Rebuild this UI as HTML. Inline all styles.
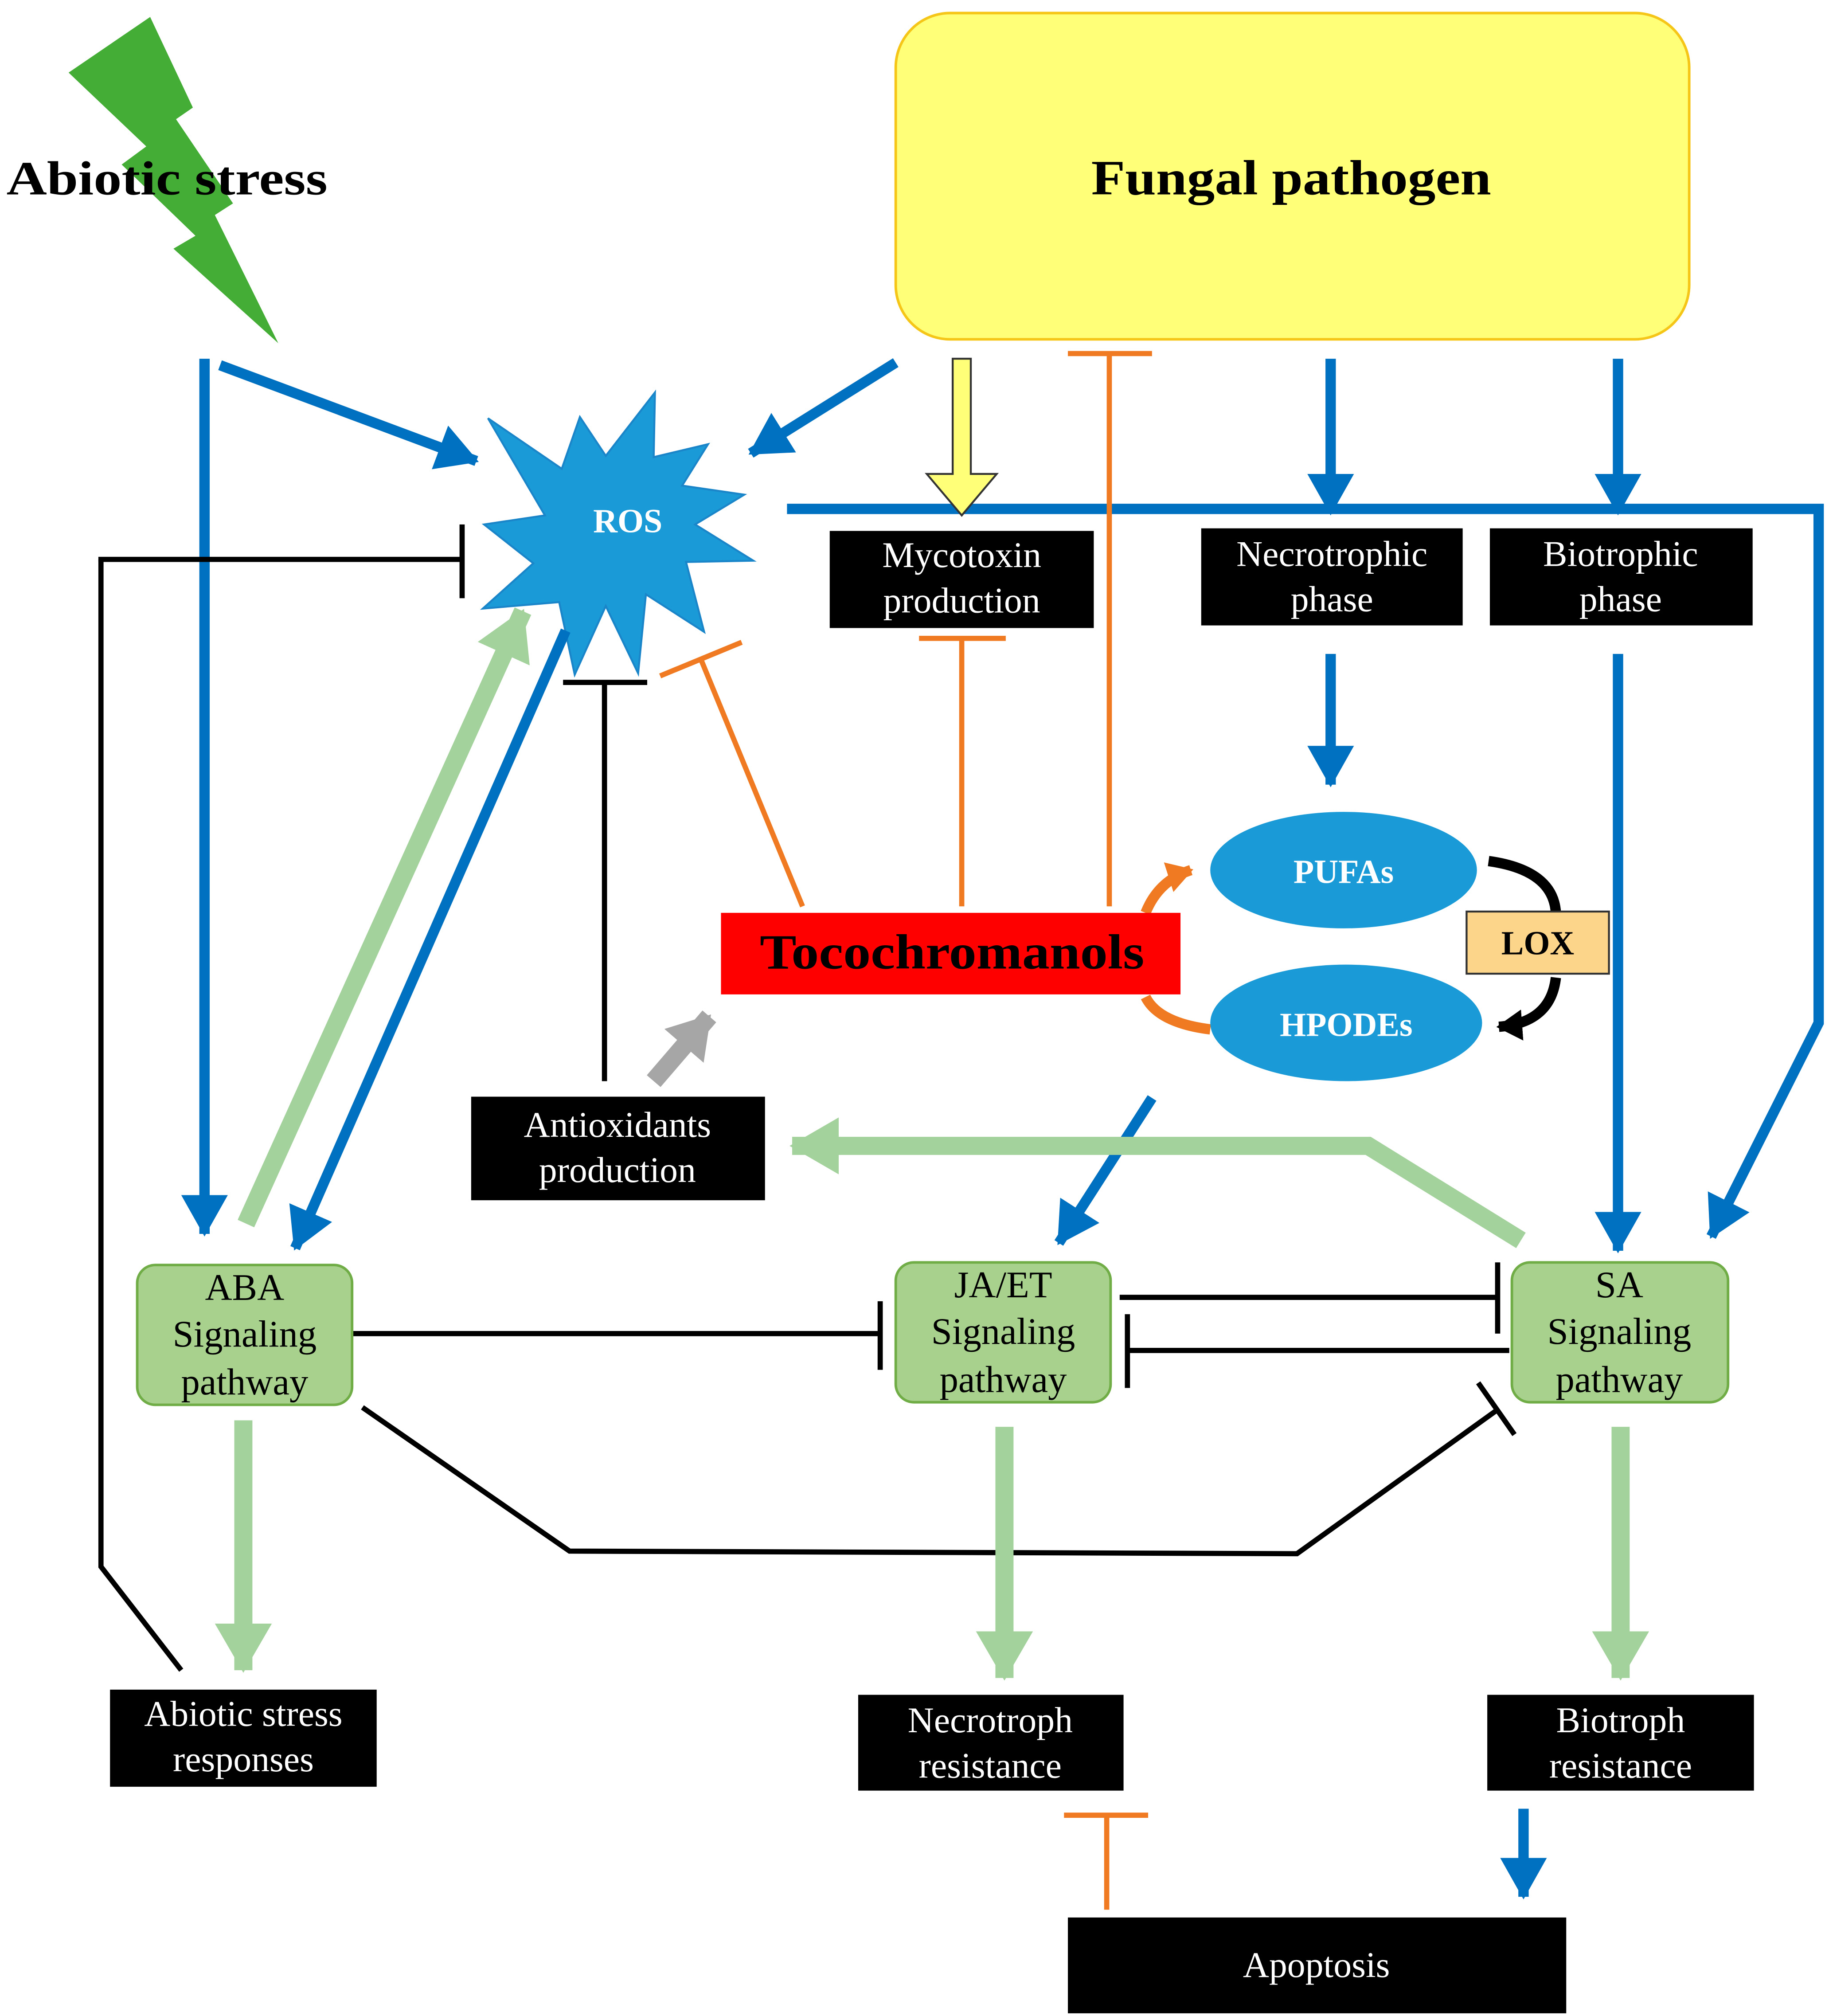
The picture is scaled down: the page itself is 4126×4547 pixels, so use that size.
<!DOCTYPE html>
<html><head><meta charset="utf-8"><style>html,body{margin:0;padding:0;background:#fff}svg{display:block}</style></head>
<body>
<svg width="4126" height="4547" viewBox="0 0 1413 1557" xmlns="http://www.w3.org/2000/svg" font-family="Liberation Serif, serif">
<defs>
<marker id="ab" markerUnits="userSpaceOnUse" markerWidth="40" markerHeight="40" refX="30" refY="18" orient="auto"><path d="M0,0 L32,18 L0,36 Z" fill="#0070c0"/></marker>
<marker id="ag" markerUnits="userSpaceOnUse" markerWidth="50" markerHeight="50" refX="36" refY="22" orient="auto"><path d="M0,0 L38,22 L0,44 Z" fill="#a4d29d"/></marker>
<marker id="agr" markerUnits="userSpaceOnUse" markerWidth="50" markerHeight="50" refX="30" refY="20" orient="auto"><path d="M0,0 L32,20 L0,40 Z" fill="#a6a6a6"/></marker>
<marker id="ao" markerUnits="userSpaceOnUse" markerWidth="30" markerHeight="30" refX="18" refY="12" orient="auto"><path d="M0,0 L20,12 L0,24 Z" fill="#f07a22"/></marker>
<marker id="ak" markerUnits="userSpaceOnUse" markerWidth="30" markerHeight="30" refX="18" refY="12" orient="auto"><path d="M0,0 L20,12 L0,24 Z" fill="#000"/></marker>
</defs>
<rect width="1413" height="1557" fill="#fff"/>
<polygon points="53,56 116,13 149,83 136,92 180,157 166,166 215,265 134,192 151,182 94,127 113,113" fill="#44ad35"/>
<text x="5" y="150" font-size="37" font-weight="bold" textLength="248" lengthAdjust="spacingAndGlyphs">Abiotic stress</text>
<rect x="692" y="10" width="613" height="252" rx="42" fill="#ffff78" stroke="#f5c518" stroke-width="2"/>
<text x="843" y="150" font-size="38" font-weight="bold" textLength="309" lengthAdjust="spacingAndGlyphs">Fungal pathogen</text>
<polygon points="377,323 434,362 448,322 468,352 506,303 505,353 547,343 527,375 575,382 537,405 582,433 530,434 544,488 499,459 493,520 468,468 444,521 432,465 373,470 412,435 374,405 421,398" fill="#1a9ad6" stroke="#1a85c8" stroke-width="1.5"/>
<text x="485" y="411" font-size="26" font-weight="bold" fill="#fff" text-anchor="middle">ROS</text>
<g stroke="#0070c0" stroke-width="8" fill="none">
<line x1="158" y1="277" x2="158" y2="953" marker-end="url(#ab)"/>
<line x1="170" y1="282" x2="368" y2="356" marker-end="url(#ab)"/>
<line x1="692" y1="280" x2="580" y2="350" marker-end="url(#ab)"/>
<line x1="1028" y1="277" x2="1028" y2="396" marker-end="url(#ab)"/>
<line x1="1250" y1="277" x2="1250" y2="396" marker-end="url(#ab)"/>
<polyline points="608,393 1405,393 1405,790 1322,955" marker-end="url(#ab)"/>
<line x1="1250" y1="505" x2="1250" y2="966" marker-end="url(#ab)"/>
<line x1="1028" y1="505" x2="1028" y2="606" marker-end="url(#ab)"/>
<line x1="437" y1="487" x2="228" y2="964" marker-end="url(#ab)"/>
<line x1="890" y1="848" x2="818" y2="960" marker-end="url(#ab)"/>
<line x1="1177" y1="1397" x2="1177" y2="1465" marker-end="url(#ab)"/>
</g>
<polygon points="736,277 750,277 750,366 770,366 743,398 716,366 736,366" fill="#ffff78" stroke="#333" stroke-width="1.5"/>
<g stroke="#f07a22" stroke-width="4" fill="none">
<line x1="857" y1="700" x2="857" y2="273"/><line x1="825" y1="273" x2="890" y2="273"/>
<line x1="743" y1="700" x2="743" y2="493"/><line x1="710" y1="493" x2="777" y2="493"/>
<line x1="620" y1="700" x2="541" y2="508"/><line x1="510" y1="522" x2="573" y2="496"/>
<line x1="855" y1="1475" x2="855" y2="1402"/><line x1="822" y1="1402" x2="887" y2="1402"/>
<path d="M885,705 Q895,680 920,672" stroke-width="8" marker-end="url(#ao)"/>
<path d="M885,770 Q895,790 935,795" stroke-width="8"/>
</g>
<g stroke="#000" stroke-width="4" fill="none">
<line x1="76" y1="432" x2="357" y2="432"/><line x1="357" y1="405" x2="357" y2="462"/>
<polyline points="78,432 78,1210 140,1290"/>
<line x1="467" y1="835" x2="467" y2="527"/><line x1="435" y1="527" x2="500" y2="527"/>
<line x1="272" y1="1030" x2="680" y2="1030"/><line x1="680" y1="1005" x2="680" y2="1058"/>
<line x1="865" y1="1002" x2="1157" y2="1002"/><line x1="1157" y1="975" x2="1157" y2="1030"/>
<line x1="1166" y1="1043" x2="871" y2="1043"/><line x1="871" y1="1015" x2="871" y2="1072"/>
<polyline points="280,1087 440,1198 1002,1200 1158,1088"/><line x1="1142" y1="1068" x2="1170" y2="1108"/>
<path d="M1150,665 Q1200,672 1202,705" stroke-width="8"/>
<path d="M1202,755 Q1198,790 1158,793" stroke-width="8" marker-end="url(#ak)"/>
</g>
<g stroke="#a4d29d" stroke-width="14" fill="none">
<line x1="190" y1="945" x2="404" y2="472" marker-end="url(#ag)"/>
<line x1="188" y1="1097" x2="188" y2="1290" marker-end="url(#ag)"/>
<line x1="776" y1="1102" x2="776" y2="1296" marker-end="url(#ag)"/>
<line x1="1252" y1="1102" x2="1252" y2="1296" marker-end="url(#ag)"/>
<polyline points="1175,958 1057,885 612,885" marker-end="url(#ag)"/>
</g>
<line x1="505" y1="835" x2="548" y2="785" stroke="#a6a6a6" stroke-width="14" marker-end="url(#agr)"/>
<ellipse cx="1038" cy="672" rx="103" ry="45" fill="#1a9ad6"/>
<text x="1038" y="682" font-size="26" font-weight="bold" fill="#fff" text-anchor="middle">PUFAs</text>
<ellipse cx="1040" cy="790" rx="105" ry="45" fill="#1a9ad6"/>
<text x="1040" y="800" font-size="26" font-weight="bold" fill="#fff" text-anchor="middle">HPODEs</text>
<rect x="1133" y="704" width="110" height="48" fill="#fdd58a" stroke="#333" stroke-width="1.5"/>
<text x="1188" y="737" font-size="26" font-weight="bold" text-anchor="middle">LOX</text>
<rect x="557" y="705" width="355" height="63" fill="#ff0000"/>
<text x="587" y="748" font-size="38" font-weight="bold" textLength="297" lengthAdjust="spacingAndGlyphs">Tocochromanols</text>
<g fill="#000"><rect x="641" y="410" width="204" height="75"/><rect x="928" y="408" width="202" height="75"/><rect x="1151" y="408" width="203" height="75"/><rect x="364" y="847" width="227" height="80"/><rect x="85" y="1305" width="206" height="75"/><rect x="663" y="1309" width="205" height="74"/><rect x="1149" y="1309" width="206" height="74"/><rect x="825" y="1481" width="385" height="74"/></g>
<g fill="#fff" font-size="28" text-anchor="middle">
<text x="743" y="438">Mycotoxin</text><text x="743" y="473">production</text>
<text x="1029" y="437">Necrotrophic</text><text x="1029" y="472">phase</text>
<text x="1252" y="437">Biotrophic</text><text x="1252" y="472">phase</text>
<text x="477" y="878">Antioxidants</text><text x="477" y="913">production</text>
<text x="188" y="1333">Abiotic stress</text><text x="188" y="1368">responses</text>
<text x="765" y="1338">Necrotroph</text><text x="765" y="1373">resistance</text>
<text x="1252" y="1338">Biotroph</text><text x="1252" y="1373">resistance</text>
<text x="1017" y="1527">Apoptosis</text>
</g>
<g fill="#a9d18e" stroke="#70ad47" stroke-width="2">
<rect x="106" y="977" width="166" height="108" rx="14"/><rect x="692" y="975" width="166" height="108" rx="14"/><rect x="1168" y="975" width="167" height="108" rx="14"/>
</g>
<g font-size="29" text-anchor="middle">
<text x="189" y="1004">ABA</text><text x="189" y="1040">Signaling</text><text x="189" y="1077">pathway</text>
<text x="775" y="1002">JA/ET</text><text x="775" y="1038">Signaling</text><text x="775" y="1075">pathway</text>
<text x="1251" y="1002">SA</text><text x="1251" y="1038">Signaling</text><text x="1251" y="1075">pathway</text>
</g>
</svg>
</body></html>
